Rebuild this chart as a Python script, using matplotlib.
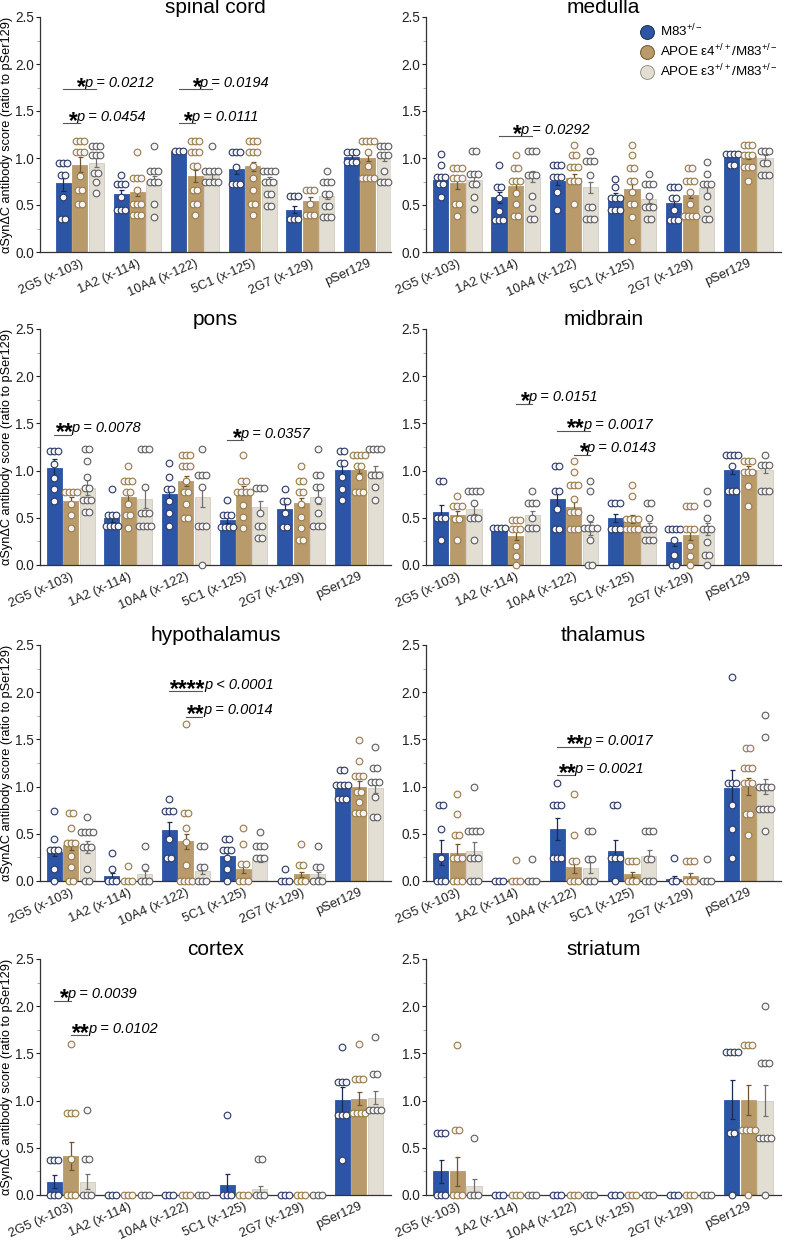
import numpy as np
import matplotlib
matplotlib.use('Agg')
import matplotlib.pyplot as plt
from matplotlib.lines import Line2D

plt.rcParams['font.family'] = ['Liberation Sans', 'DejaVu Sans']
plt.rcParams['mathtext.fontset'] = 'custom'
plt.rcParams['mathtext.rm'] = 'Liberation Sans'
plt.rcParams['mathtext.it'] = 'Liberation Sans:italic'
plt.rcParams['mathtext.bf'] = 'Liberation Sans:bold'

antibodies = ['2G5 (x-103)', '1A2 (x-114)', '10A4 (x-122)', '5C1 (x-125)', '2G7 (x-129)', 'pSer129']
groups = ['M83$^{+/-}$', 'APOE ε4$^{+/+}$/M83$^{+/-}$', 'APOE ε3$^{+/+}$/M83$^{+/-}$']

# ---- spinal cord ----
spinal_mean = [[0.73, 0.62, 1.07, 0.88, 0.45, 1.01],
               [0.93, 0.64, 0.81, 0.91, 0.54, 1.00],
               [0.95, 0.76, 0.82, 0.77, 0.60, 1.01]]
spinal_sem = [[0.08, 0.04, 0.0, 0.05, 0.04, 0.02],
              [0.08, 0.04, 0.06, 0.05, 0.04, 0.03],
              [0.05, 0.05, 0.04, 0.03, 0.04, 0.04]]
spinal_pts = [
    [[0.95, 0.95, 0.95, 0.82, 0.82, 0.59, 0.35, 0.35],
     [0.82, 0.72, 0.72, 0.72, 0.59, 0.45, 0.45, 0.45],
     [1.07, 1.07, 1.07],
     [1.06, 1.06, 1.06, 0.90, 0.72, 0.72, 0.72],
     [0.60, 0.60, 0.60, 0.35, 0.35, 0.35],
     [1.06, 1.06, 1.06, 0.96, 0.96, 0.96]],
    [[1.18, 1.18, 1.18, 1.06, 1.06, 1.06, 0.81, 0.66, 0.66, 0.51, 0.51],
     [1.06, 0.79, 0.79, 0.79, 0.66, 0.51, 0.51, 0.51, 0.39, 0.39, 0.39],
     [1.18, 1.18, 1.18, 1.06, 1.06, 1.06, 0.92, 0.92, 0.66, 0.66, 0.51, 0.51, 0.39],
     [1.18, 1.18, 1.18, 1.06, 1.06, 1.06, 0.92, 0.79, 0.66, 0.51, 0.51, 0.39],
     [0.66, 0.66, 0.66, 0.51, 0.39, 0.39, 0.39],
     [1.18, 1.18, 1.18, 1.18, 1.06, 0.92, 0.79, 0.79, 0.79, 0.79]],
    [[1.13, 1.13, 1.13, 1.03, 1.03, 1.03, 0.84, 0.84, 0.74, 0.63],
     [1.13, 0.86, 0.86, 0.86, 0.74, 0.74, 0.74, 0.51, 0.37],
     [1.13, 0.86, 0.86, 0.86, 0.86, 0.74, 0.74, 0.74, 0.74],
     [0.86, 0.86, 0.86, 0.86, 0.74, 0.74, 0.74, 0.62, 0.62, 0.49, 0.49],
     [0.86, 0.74, 0.74, 0.74, 0.62, 0.62, 0.49, 0.49, 0.37, 0.37, 0.37],
     [1.13, 1.13, 1.13, 1.03, 1.03, 1.03, 0.86, 0.74, 0.74, 0.74]]]
spinal_sig = [(0, 0, 2, 1.73, '*', 'p = 0.0212'), (0, 0, 1, 1.37, '*', 'p = 0.0454'),
              (2, 0, 2, 1.73, '*', 'p = 0.0194'), (2, 0, 1, 1.37, '*', 'p = 0.0111')]

# ---- medulla ----
medulla_mean = [[0.77, 0.58, 0.76, 0.60, 0.52, 1.03],
                [0.73, 0.70, 0.79, 0.67, 0.61, 1.02],
                [0.77, 0.80, 0.69, 0.56, 0.68, 1.00]]
medulla_sem = [[0.04, 0.06, 0.05, 0.03, 0.05, 0.01],
               [0.06, 0.06, 0.04, 0.05, 0.04, 0.03],
               [0.04, 0.06, 0.06, 0.04, 0.05, 0.03]]
medulla_pts = [
    [[1.04, 0.93, 0.80, 0.80, 0.80, 0.72, 0.72, 0.59],
     [0.93, 0.69, 0.69, 0.57, 0.44, 0.34, 0.34, 0.34],
     [0.93, 0.93, 0.93, 0.80, 0.80, 0.80, 0.64, 0.45],
     [0.78, 0.69, 0.57, 0.57, 0.57, 0.45, 0.45, 0.45],
     [0.69, 0.69, 0.69, 0.57, 0.57, 0.45, 0.34, 0.34, 0.34],
     [1.04, 1.04, 1.04, 1.04, 0.93, 0.93]],
    [[0.89, 0.89, 0.89, 0.79, 0.79, 0.79, 0.51, 0.51, 0.38],
     [1.03, 0.89, 0.89, 0.76, 0.76, 0.76, 0.63, 0.51, 0.38, 0.38],
     [1.14, 1.03, 1.03, 0.90, 0.90, 0.90, 0.76, 0.76, 0.76, 0.51],
     [1.14, 1.03, 0.89, 0.89, 0.76, 0.76, 0.64, 0.51, 0.51, 0.37, 0.12],
     [0.89, 0.89, 0.76, 0.76, 0.76, 0.64, 0.51, 0.38, 0.38, 0.38, 0.38],
     [1.14, 1.14, 1.14, 1.03, 1.03, 1.03, 0.90, 0.90, 0.90, 0.76]],
    [[1.07, 1.07, 0.83, 0.83, 0.83, 0.72, 0.72, 0.59, 0.46],
     [1.07, 1.07, 1.07, 0.82, 0.82, 0.82, 0.60, 0.47, 0.35, 0.35],
     [1.07, 0.97, 0.97, 0.97, 0.82, 0.48, 0.48, 0.35, 0.35, 0.35],
     [0.83, 0.72, 0.72, 0.72, 0.60, 0.48, 0.48, 0.48, 0.35, 0.35],
     [0.96, 0.83, 0.72, 0.72, 0.72, 0.60, 0.46, 0.35, 0.35],
     [1.07, 1.07, 1.07, 0.95, 0.95, 0.82, 0.82, 0.82]]]
medulla_sig = [(1, 0, 2, 1.23, '*', 'p = 0.0292')]

# ---- pons ----
pons_mean = [[1.03, 0.50, 0.75, 0.48, 0.59, 1.01],
             [0.68, 0.72, 0.89, 0.79, 0.66, 1.01],
             [0.82, 0.70, 0.72, 0.61, 0.72, 1.00]]
pons_sem = [[0.09, 0.04, 0.07, 0.03, 0.06, 0.06],
            [0.04, 0.05, 0.05, 0.05, 0.05, 0.04],
            [0.08, 0.10, 0.11, 0.07, 0.07, 0.05]]
pons_pts = [
    [[1.21, 1.21, 1.21, 1.07, 0.92, 0.80, 0.68],
     [0.81, 0.53, 0.53, 0.53, 0.41, 0.41, 0.41, 0.41],
     [1.08, 0.93, 0.81, 0.81, 0.68, 0.55, 0.41],
     [0.69, 0.53, 0.53, 0.53, 0.40, 0.40, 0.40, 0.40],
     [0.81, 0.68, 0.68, 0.55, 0.40, 0.40],
     [1.21, 1.21, 1.08, 1.08, 0.93, 0.81, 0.69]],
    [[0.77, 0.77, 0.77, 0.77, 0.65, 0.53, 0.39],
     [1.05, 0.89, 0.89, 0.89, 0.77, 0.77, 0.65, 0.53, 0.53, 0.39],
     [1.17, 1.17, 1.17, 1.05, 1.05, 1.05, 0.89, 0.77, 0.77, 0.65, 0.50, 0.50],
     [1.17, 0.89, 0.89, 0.77, 0.77, 0.77, 0.77, 0.64, 0.51, 0.39],
     [1.05, 0.89, 0.89, 0.77, 0.77, 0.65, 0.51, 0.39, 0.27, 0.27],
     [1.17, 1.17, 1.17, 1.17, 1.05, 1.05, 0.93, 0.77, 0.77, 0.77]],
    [[1.23, 1.23, 1.10, 0.93, 0.82, 0.82, 0.69, 0.69, 0.69, 0.56, 0.56],
     [1.23, 1.23, 1.23, 0.83, 0.55, 0.55, 0.55, 0.41, 0.41, 0.41, 0.41],
     [1.23, 0.95, 0.95, 0.95, 0.83, 0.41, 0.41, 0.41, 0.0],
     [0.82, 0.82, 0.82, 0.55, 0.41, 0.41, 0.29, 0.29],
     [1.23, 0.95, 0.95, 0.83, 0.83, 0.69, 0.55, 0.41, 0.41, 0.41],
     [1.23, 1.23, 1.23, 1.23, 0.95, 0.95, 0.95, 0.83, 0.69]]]
pons_sig = [(0, 0, 1, 1.38, '**', 'p = 0.0078'), (3, 0, 1, 1.32, '*', 'p = 0.0357')]

# ---- midbrain ----
midbrain_mean = [[0.56, 0.39, 0.70, 0.50, 0.24, 1.01],
                 [0.53, 0.31, 0.61, 0.49, 0.32, 1.01],
                 [0.59, 0.53, 0.39, 0.41, 0.38, 1.01]]
midbrain_sem = [[0.08, 0.0, 0.07, 0.04, 0.04, 0.05],
                [0.04, 0.05, 0.06, 0.04, 0.05, 0.04],
                [0.05, 0.04, 0.07, 0.04, 0.06, 0.04]]
midbrain_pts = [
    [[0.89, 0.89, 0.50, 0.50, 0.50, 0.27],
     [0.39, 0.39, 0.39, 0.39],
     [1.05, 1.05, 0.78, 0.78, 0.59, 0.38, 0.38],
     [0.66, 0.66, 0.66, 0.38, 0.38, 0.38],
     [0.38, 0.38, 0.38, 0.38, 0.27, 0.11, 0.0, 0.0],
     [1.17, 1.17, 1.17, 1.17, 1.05, 0.78, 0.78, 0.78]],
    [[0.73, 0.63, 0.63, 0.63, 0.49, 0.49, 0.26],
     [0.48, 0.48, 0.48, 0.38, 0.38, 0.38, 0.20, 0.10, 0.0],
     [1.10, 0.99, 0.85, 0.85, 0.85, 0.70, 0.56, 0.56, 0.56, 0.38, 0.38, 0.38],
     [0.85, 0.73, 0.49, 0.49, 0.49, 0.49, 0.38, 0.38, 0.38, 0.38],
     [0.63, 0.63, 0.63, 0.38, 0.38, 0.38, 0.20, 0.10, 0.0],
     [1.10, 1.10, 1.10, 0.99, 0.99, 0.99, 0.84, 0.63]],
    [[0.78, 0.78, 0.78, 0.78, 0.66, 0.50, 0.50, 0.50, 0.27],
     [0.78, 0.66, 0.66, 0.66, 0.50, 0.39, 0.39, 0.39],
     [0.89, 0.78, 0.50, 0.39, 0.39, 0.39, 0.39, 0.27, 0.0, 0.0],
     [0.66, 0.66, 0.50, 0.38, 0.38, 0.38, 0.27, 0.27, 0.27],
     [0.78, 0.66, 0.50, 0.38, 0.38, 0.38, 0.24, 0.11, 0.11, 0.0],
     [1.17, 1.06, 1.06, 1.06, 0.78, 0.78, 0.78]]]
midbrain_sig = [(1, 1, 2, 1.71, '*', 'p = 0.0151'), (2, 0, 2, 1.42, '**', 'p = 0.0017'),
                (2, 1, 2, 1.17, '*', 'p = 0.0143')]

# ---- hypothalamus ----
hypo_mean = [[0.31, 0.05, 0.54, 0.26, 0.0, 1.01],
             [0.38, 0.0, 0.42, 0.13, 0.07, 1.00],
             [0.36, 0.07, 0.11, 0.24, 0.07, 0.99]]
hypo_sem = [[0.05, 0.04, 0.09, 0.04, 0.0, 0.03],
            [0.05, 0.0, 0.08, 0.05, 0.03, 0.06],
            [0.06, 0.04, 0.04, 0.04, 0.03, 0.06]]
hypo_pts = [
    [[0.74, 0.44, 0.33, 0.33, 0.33, 0.13, 0.0],
     [0.30, 0.13, 0.0, 0.0, 0.0],
     [0.87, 0.74, 0.74, 0.74, 0.44, 0.24, 0.24],
     [0.44, 0.44, 0.33, 0.33, 0.33, 0.24, 0.13, 0.0],
     [0.13, 0.0, 0.0, 0.0],
     [1.18, 1.18, 1.02, 1.02, 1.02, 1.02, 0.87, 0.87, 0.87]],
    [[0.72, 0.72, 0.56, 0.40, 0.40, 0.40, 0.26, 0.15, 0.0, 0.0],
     [0.16, 0.0, 0.0, 0.0],
     [1.66, 0.72, 0.72, 0.56, 0.41, 0.17, 0.0, 0.0, 0.0, 0.0],
     [0.56, 0.39, 0.18, 0.18, 0.0, 0.0, 0.0],
     [0.39, 0.17, 0.17, 0.0, 0.0, 0.0],
     [1.49, 1.27, 1.11, 1.11, 1.11, 0.94, 0.94, 0.84, 0.72, 0.72, 0.72]],
    [[0.68, 0.52, 0.52, 0.52, 0.52, 0.36, 0.36, 0.36, 0.13, 0.0, 0.0],
     [0.37, 0.15, 0.0, 0.0, 0.0],
     [0.37, 0.37, 0.15, 0.15, 0.0, 0.0, 0.0],
     [0.52, 0.37, 0.37, 0.37, 0.24, 0.24, 0.24],
     [0.37, 0.15, 0.15, 0.0, 0.0, 0.0],
     [1.42, 1.20, 1.20, 1.05, 1.05, 1.05, 0.89, 0.68, 0.68]]]
hypo_sig = [(2, 0, 2, 2.01, '****', 'p < 0.0001'), (2, 1, 2, 1.74, '**', 'p = 0.0014')]

# ---- thalamus ----
thal_mean = [[0.30, 0.0, 0.55, 0.32, 0.02, 0.99],
             [0.30, 0.02, 0.15, 0.07, 0.05, 1.00],
             [0.32, 0.02, 0.14, 0.27, 0.02, 1.00]]
thal_sem = [[0.13, 0.0, 0.12, 0.11, 0.03, 0.19],
            [0.09, 0.0, 0.07, 0.03, 0.03, 0.09],
            [0.09, 0.0, 0.06, 0.06, 0.0, 0.08]]
thal_pts = [
    [[0.80, 0.80, 0.55, 0.24, 0.0, 0.0, 0.0],
     [0.0, 0.0, 0.0],
     [1.04, 0.80, 0.80, 0.80, 0.24, 0.24, 0.24],
     [0.80, 0.80, 0.24, 0.24, 0.24, 0.0],
     [0.24, 0.0, 0.0],
     [2.16, 1.04, 1.04, 1.04, 0.80, 0.55, 0.24]],
    [[0.92, 0.71, 0.49, 0.49, 0.24, 0.24, 0.24, 0.0, 0.0, 0.0],
     [0.22, 0.0, 0.0, 0.0],
     [0.92, 0.49, 0.21, 0.21, 0.0, 0.0, 0.0],
     [0.21, 0.21, 0.21, 0.0, 0.0, 0.0],
     [0.21, 0.21, 0.21, 0.0, 0.0, 0.0],
     [1.41, 1.41, 1.20, 1.20, 1.20, 1.04, 1.04, 1.04, 0.71, 0.71, 0.49]],
    [[1.00, 0.53, 0.53, 0.53, 0.53, 0.24, 0.24, 0.24, 0.0, 0.0, 0.0],
     [0.23, 0.0, 0.0, 0.0],
     [0.53, 0.53, 0.23, 0.23, 0.0, 0.0, 0.0],
     [0.53, 0.53, 0.53, 0.23, 0.23, 0.0, 0.0, 0.0],
     [0.23, 0.0, 0.0, 0.0],
     [1.76, 1.53, 1.00, 1.00, 1.00, 1.00, 0.76, 0.76, 0.76, 0.76, 0.53]]]
thal_sig = [(2, 0, 2, 1.42, '**', 'p = 0.0017'), (2, 0, 1, 1.12, '**', 'p = 0.0021')]

# ---- cortex ----
cortex_mean = [[0.14, 0.0, 0.0, 0.11, 0.0, 1.01],
               [0.41, 0.0, 0.0, 0.0, 0.0, 1.02],
               [0.14, 0.0, 0.0, 0.06, 0.0, 1.03]]
cortex_sem = [[0.07, 0.0, 0.0, 0.11, 0.0, 0.13],
              [0.15, 0.0, 0.0, 0.0, 0.0, 0.07],
              [0.08, 0.0, 0.0, 0.04, 0.0, 0.07]]
cortex_pts = [
    [[0.37, 0.37, 0.37, 0.0, 0.0, 0.0],
     [0.0, 0.0, 0.0], [0.0, 0.0, 0.0],
     [0.85, 0.0, 0.0, 0.0],
     [0.0, 0.0, 0.0],
     [1.57, 1.20, 1.20, 1.20, 0.85, 0.85, 0.85, 0.37]],
    [[1.60, 0.87, 0.87, 0.87, 0.38, 0.0, 0.0, 0.0],
     [0.0, 0.0, 0.0], [0.0, 0.0, 0.0], [0.0, 0.0, 0.0], [0.0, 0.0, 0.0],
     [1.60, 1.23, 1.23, 1.23, 0.87, 0.87, 0.87, 0.87]],
    [[0.90, 0.38, 0.38, 0.0, 0.0, 0.0],
     [0.0, 0.0, 0.0], [0.0, 0.0, 0.0],
     [0.38, 0.38, 0.0, 0.0, 0.0],
     [0.0, 0.0, 0.0],
     [1.67, 1.28, 1.28, 0.90, 0.90, 0.90, 0.90]]]
cortex_sig = [(0, 0, 1, 2.06, '*', 'p = 0.0039'), (0, 1, 2, 1.69, '**', 'p = 0.0102')]

# ---- striatum ----
stria_mean = [[0.25, 0.0, 0.0, 0.0, 0.0, 1.01],
              [0.25, 0.0, 0.0, 0.0, 0.0, 1.01],
              [0.10, 0.0, 0.0, 0.0, 0.0, 1.00]]
stria_sem = [[0.12, 0.0, 0.0, 0.0, 0.0, 0.21],
             [0.15, 0.0, 0.0, 0.0, 0.0, 0.16],
             [0.07, 0.0, 0.0, 0.0, 0.0, 0.16]]
stria_pts = [
    [[0.66, 0.66, 0.66, 0.0, 0.0, 0.0],
     [0.0, 0.0, 0.0], [0.0, 0.0, 0.0], [0.0, 0.0, 0.0], [0.0, 0.0, 0.0],
     [1.52, 1.52, 1.52, 1.52, 0.66, 0.66, 0.0]],
    [[1.59, 0.69, 0.69, 0.0, 0.0, 0.0],
     [0.0, 0.0, 0.0], [0.0, 0.0, 0.0], [0.0, 0.0, 0.0], [0.0, 0.0, 0.0],
     [1.59, 1.59, 1.59, 0.69, 0.69, 0.69, 0.69, 0.0]],
    [[0.60, 0.0, 0.0, 0.0],
     [0.0, 0.0, 0.0], [0.0, 0.0, 0.0], [0.0, 0.0, 0.0], [0.0, 0.0, 0.0],
     [2.00, 1.40, 1.40, 1.40, 0.60, 0.60, 0.60, 0.60, 0.0]]]
stria_sig = []

# ---- styling ----
bar_col = ['#2C56A5', '#B99B6B', '#E3DED4']
bar_edge = ['#2C56A5', '#B99B6B', '#D2CCC1']
err_col = ['#1B2A52', '#6E5630', '#707070']
pt_edge = ['#2B3A66', '#9A7B48', '#5E5E5E']
pt_face = '#F5F5F7'
pitch = 0.285
bw = 0.26
step = 0.07

W, H = 787, 1240
fig = plt.figure(figsize=(W / 100, H / 100), dpi=100)
cols = [(39.5, 391), (426, 781)]
rows = [(17, 252), (329, 565), (645, 881), (959, 1195)]


def add_ax(r, c):
    x0, x1 = cols[c]
    y0, y1 = rows[r]
    return fig.add_axes([x0 / W, 1 - y1 / H, (x1 - x0) / W, (y1 - y0) / H])


def draw(ax, title, mean, sem, pts, sig, xleft, ylab):
    for g in range(3):
        xs = np.arange(6) + (g - 1) * pitch
        ax.bar(xs, mean[g], width=bw, color=bar_col[g], edgecolor=bar_edge[g],
               linewidth=0.6, zorder=1)
        for a in range(6):
            if sem[g][a] > 0:
                ax.errorbar(xs[a], mean[g][a], yerr=sem[g][a], color=err_col[g],
                            lw=0.9, capsize=1.8, capthick=0.9, zorder=2)
            vals = np.array(pts[g][a])
            for v in np.unique(vals):
                n = int(np.sum(vals == v))
                off = (np.arange(n) - (n - 1) / 2) * step
                ax.plot(xs[a] + off, [v] * n, ls='none', marker='o', ms=4.8,
                        mfc=pt_face, mec=pt_edge[g], mew=0.8, clip_on=False, zorder=3)
    for a, g1, g2, h, stars, ptxt in sig:
        x1 = a + (g1 - 1) * pitch
        x2 = a + (g2 - 1) * pitch
        ax.plot([x1, x2], [h, h], color='#555555', lw=0.8, zorder=4)
        st = ax.annotate(stars, xy=((x1 + x2) / 2, h), xytext=(0, -3.2),
                         textcoords='offset points', ha='center', va='baseline',
                         fontsize=16.5, fontweight='bold', fontstyle='italic')
        ax.annotate(ptxt, xy=(1, h), xycoords=(st, 'data'), xytext=(0.2, 1.7),
                    textcoords='offset points', ha='left', va='baseline',
                    fontsize=10.5, fontstyle='italic')

    ax.set_xlim(xleft, xleft + 6.1)
    ax.set_ylim(0, 2.5)
    ax.set_yticks(np.arange(0, 2.51, 0.5))
    ax.set_yticklabels(['%.1f' % v for v in np.arange(0, 2.51, 0.5)], fontsize=9.8)
    ax.set_yticks(np.arange(0.25, 2.5, 0.5), minor=True)
    ax.tick_params(axis='y', which='major', length=3, width=0.8, pad=1, colors='#222222')
    ax.tick_params(axis='y', which='minor', length=2, width=0.6, color='#999999')
    ax.set_xticks(range(6))
    ax.set_xticklabels(antibodies, rotation=24, ha='right', rotation_mode='anchor',
                       fontsize=9.3)
    ax.tick_params(axis='x', length=0, pad=4, colors='#222222')
    for s in ['top', 'right']:
        ax.spines[s].set_visible(False)
    for s in ['left', 'bottom']:
        ax.spines[s].set_color('#333333')
        ax.spines[s].set_linewidth(0.9)
    ax.set_title(title, fontsize=15, pad=2)
    if ylab:
        ax.set_ylabel('αSynΔC antibody score (ratio to pSer129)', fontsize=9.2, labelpad=1.5)


panels = [
    ('spinal cord', spinal_mean, spinal_sem, spinal_pts, spinal_sig, -0.70),
    ('medulla', medulla_mean, medulla_sem, medulla_pts, medulla_sig, -0.54),
    ('pons', pons_mean, pons_sem, pons_pts, pons_sig, -0.54),
    ('midbrain', midbrain_mean, midbrain_sem, midbrain_pts, midbrain_sig, -0.54),
    ('hypothalamus', hypo_mean, hypo_sem, hypo_pts, hypo_sig, -0.54),
    ('thalamus', thal_mean, thal_sem, thal_pts, thal_sig, -0.54),
    ('cortex', cortex_mean, cortex_sem, cortex_pts, cortex_sig, -0.54),
    ('striatum', stria_mean, stria_sem, stria_pts, stria_sig, -0.54),
]

axes = []
for i, (title, m, s, p, sg, xl) in enumerate(panels):
    ax = add_ax(i // 2, i % 2)
    draw(ax, title, m, s, p, sg, xl, i % 2 == 0)
    axes.append(ax)

handles = [Line2D([], [], ls='none', marker='o', ms=10, mfc=bar_col[g],
                  mec=err_col[g] if g < 2 else '#9A958B', mew=0.7) for g in range(3)]
axes[1].legend(handles, groups, loc='upper left', bbox_to_anchor=(640 / W, 1 - 23 / H),
               bbox_transform=fig.transFigure, frameon=False, fontsize=9.6,
               handlelength=1.0, handletextpad=0.5, labelspacing=0.25,
               borderpad=0, borderaxespad=0)

fig.savefig('out.png', dpi=100)
